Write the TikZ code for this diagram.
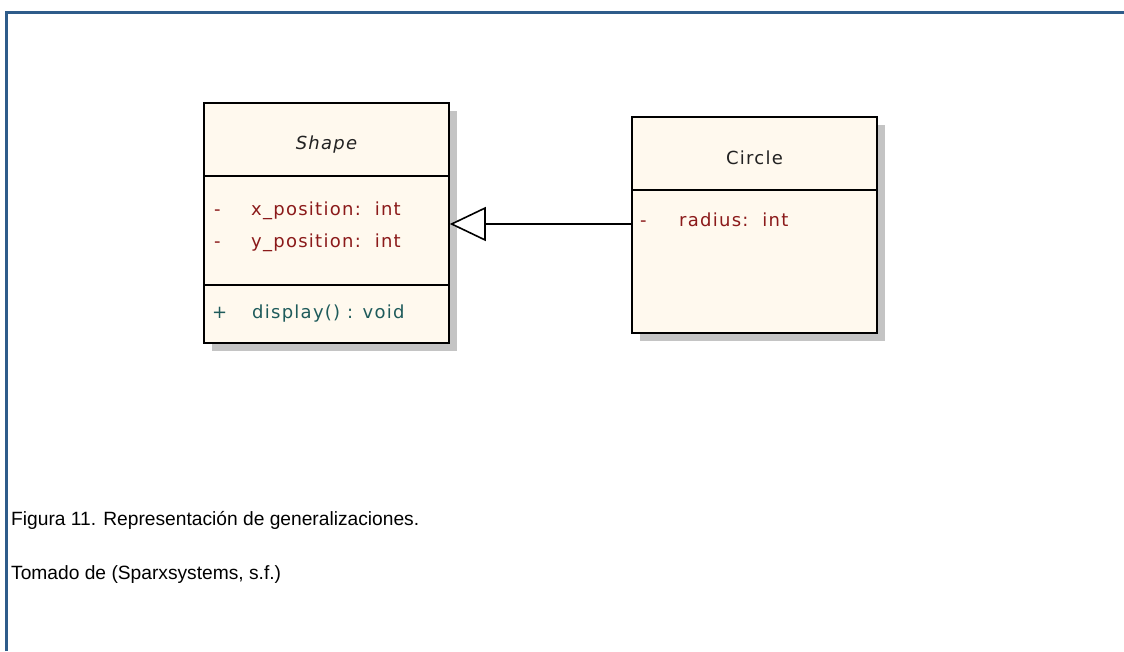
\documentclass[tikz,border=0pt]{standalone}
\usepackage{fontspec}
\setmainfont{Liberation Sans}
\newfontfamily\umlfont[LetterSpace=7]{DejaVu Sans}
\usetikzlibrary{arrows.meta}
\definecolor{framec}{HTML}{2E5C8A}
\definecolor{cream}{HTML}{FFF9EE}
\definecolor{attrc}{HTML}{8B1A1A}
\definecolor{methc}{HTML}{1E5B5B}
\definecolor{shadowc}{HTML}{C4C4C4}
\definecolor{namec}{HTML}{222222}
\tikzset{
  classbox/.style={draw=black, line width=1.6pt, fill=cream, inner sep=0pt,
    minimum width=245pt},
  umltext/.style={font=\umlfont\fontsize{18}{21}\selectfont, inner sep=0pt,
    text height=13pt, text depth=4pt},
  attr/.style={umltext, text=attrc, anchor=west},
  meth/.style={umltext, text=methc, anchor=west},
  divider/.style={draw=black, line width=1.6pt},
  caption/.style={font=\fontsize{19.2}{23}\selectfont, anchor=west, inner sep=0pt},
  frameline/.style={draw=framec, line width=3pt}
}
\begin{document}
\begin{tikzpicture}[x=1pt,y=-1pt]
\useasboundingbox (0,0) rectangle (1124,651);
% frame
\draw[frameline] (6,651) -- (6,12) -- (1124,12);
% shadows
\fill[shadowc] (212,111) rectangle (457,351);
\fill[shadowc] (640,125) rectangle (885,341);
% Shape class
\node[classbox, minimum height=240pt] (shape) at (326.5,223) {};
\draw[divider] (shape.west |- 0,176) -- (shape.east |- 0,176);
\draw[divider] (shape.west |- 0,285) -- (shape.east |- 0,285);
\node[umltext, text=namec, font=\umlfont\itshape\fontsize{18}{21}\selectfont] (shapename) at (326.5,145) {Shape};
\node[attr] (xvis) at (214,211) {-};
\node[attr] (xpos) at (251,211) {x\_position:\ \ int};
\node[attr] (yvis) at (214,243) {-};
\node[attr] (ypos) at (251,243) {y\_position:\ \ int};
\node[meth] (dvis) at (212,314) {+};
\node[meth] (disp) at (252,314) {display() : void};
% Circle class
\node[classbox, minimum height=216pt] (circle) at (754.5,225) {};
\draw[divider] (circle.west |- 0,190) -- (circle.east |- 0,190);
\node[umltext, text=namec] (circlename) at (754.5,160) {Circle};
\node[attr] (rvis) at (640,222) {-};
\node[attr] (rad) at (679,222) {radius:\ \ int};
% generalization
\coordinate (gstart) at (circle.west |- 0,224);
\draw[line width=1.6pt, -{Triangle[open, length=36pt, width=34pt, line width=1.6pt, fill=white]}]
  (gstart) -- (gstart -| shape.east);
% captions
\node[caption] (cap1) at (11,520) {Figura 11. Representación de generalizaciones.};
\node[caption] (cap2) at (11,575) {Tomado de (Sparxsystems, s.f.)};
\end{tikzpicture}
\end{document}
